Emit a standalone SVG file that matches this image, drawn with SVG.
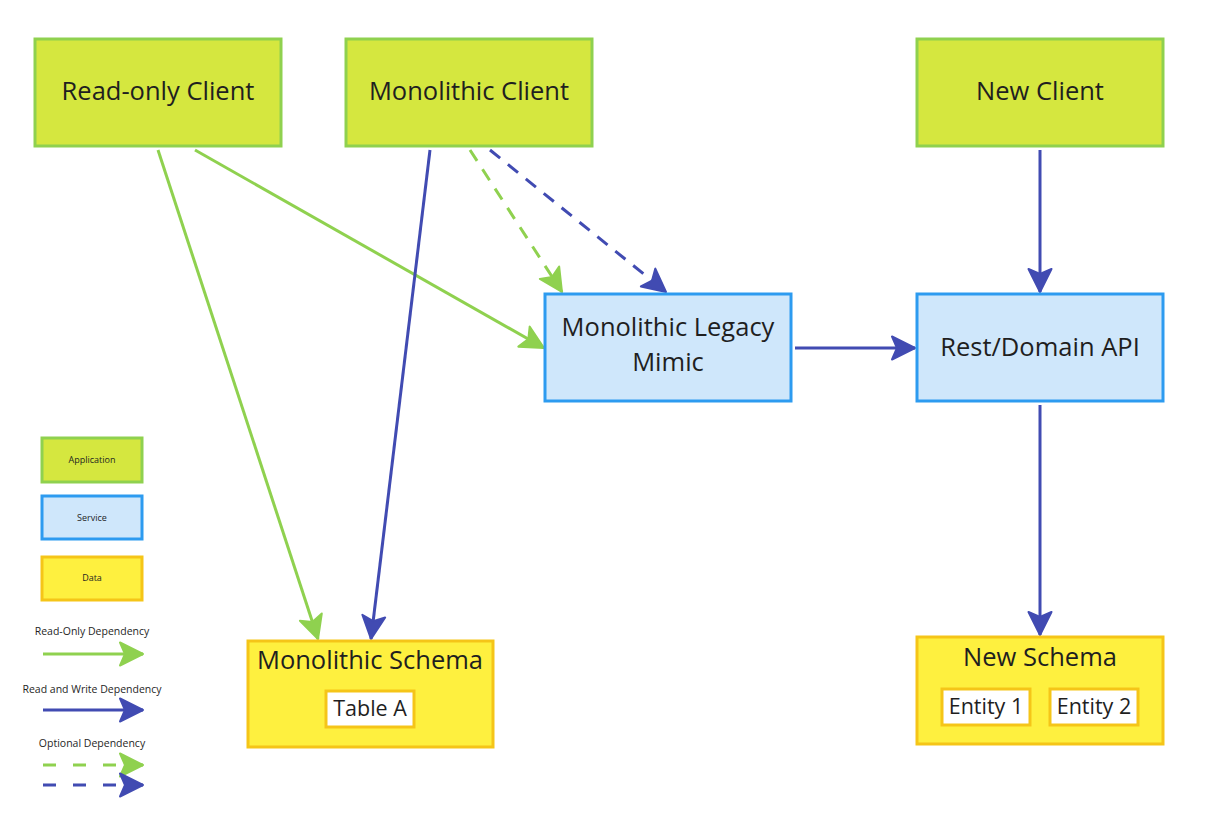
<svg xmlns="http://www.w3.org/2000/svg" width="1224" height="816" viewBox="0 0 1224 816">
<style>
text{font-family:"Open Sans","Noto Sans","Liberation Sans",sans-serif;fill:#1f1f1f;text-anchor:middle}
.app{fill:#d5e73f;stroke:#8fd14f;stroke-width:3}
.svc{fill:#cfe7fb;stroke:#2d9bf0;stroke-width:3}
.dat{fill:#fef03f;stroke:#f5c518;stroke-width:3}
.ent{fill:#ffffff;stroke:#f5c518;stroke-width:3}
.big{font-size:25.5px}
.mid{font-size:21.5px}
.tiny{font-size:9px}
.lg{font-size:10.5px}
.g{stroke:#8fd14f;stroke-width:3;fill:none}
.b{stroke:#414bb2;stroke-width:3;fill:none}
.gd{stroke:#8fd14f;stroke-width:3;fill:none;stroke-dasharray:13 10}
.bd{stroke:#414bb2;stroke-width:3;fill:none;stroke-dasharray:13 10}
.g,.gd{marker-end:url(#ag)}
.b,.bd{marker-end:url(#ab)}
</style>
<defs>
<marker id="ag" markerUnits="userSpaceOnUse" viewBox="-26 -14 28 28" refX="0" refY="0" markerWidth="28" markerHeight="28" orient="auto" overflow="visible">
<path d="M0 0 L-23 -11.5 L-18 0 L-23 11.5 Z" fill="#8fd14f" stroke="#8fd14f" stroke-width="2" stroke-linejoin="round"/>
</marker>
<marker id="ab" markerUnits="userSpaceOnUse" viewBox="-26 -14 28 28" refX="0" refY="0" markerWidth="28" markerHeight="28" orient="auto" overflow="visible">
<path d="M0 0 L-23 -11.5 L-18 0 L-23 11.5 Z" fill="#414bb2" stroke="#414bb2" stroke-width="2" stroke-linejoin="round"/>
</marker>
</defs>
<rect width="1224" height="816" fill="#ffffff"/>
<g id="connectors">
<path class="g" d="M158 150 L318 639"/>
<path class="g" d="M195 150 L544 348"/>
<path class="b" d="M430 150 L371 639"/>
<path class="gd" d="M470 150 L562 292"/>
<path class="bd" d="M490 150 L666 292"/>
<path class="b" d="M795 348 L915 348"/>
<path class="b" d="M1040 150 L1040 292"/>
<path class="b" d="M1040 405 L1040 635"/>
</g>
<g id="read-only-client">
<rect class="app" x="35" y="39" width="246" height="107"/>
<text class="big" x="158" y="100">Read-only Client</text>
</g>
<g id="monolithic-client">
<rect class="app" x="346" y="39" width="246" height="107"/>
<text class="big" x="469" y="100">Monolithic Client</text>
</g>
<g id="new-client">
<rect class="app" x="917" y="39" width="246" height="107"/>
<text class="big" x="1040" y="100">New Client</text>
</g>
<g id="legacy-mimic">
<rect class="svc" x="545" y="294" width="246" height="107"/>
<text class="big" x="668" y="336">Monolithic Legacy</text>
<text class="big" x="668" y="371">Mimic</text>
</g>
<g id="rest-api">
<rect class="svc" x="917" y="294" width="246" height="107"/>
<text class="big" x="1040" y="356">Rest/Domain API</text>
</g>
<g id="monolithic-schema">
<rect class="dat" x="248" y="641" width="245" height="106"/>
<text class="big" x="370" y="669">Monolithic Schema</text>
<rect class="ent" x="326" y="691" width="88" height="36"/>
<text class="mid" x="370" y="716">Table A</text>
</g>
<g id="new-schema">
<rect class="dat" x="917" y="637" width="246" height="107"/>
<text class="big" x="1040" y="666">New Schema</text>
<rect class="ent" x="942" y="689" width="88" height="36"/>
<text class="mid" x="986" y="714">Entity 1</text>
<rect class="ent" x="1050" y="689" width="88" height="36"/>
<text class="mid" x="1094" y="714">Entity 2</text>
</g>
<g id="legend">
<rect class="app" x="42" y="438" width="100" height="44"/>
<text class="tiny" x="92" y="463">Application</text>
<rect class="svc" x="42" y="496" width="100" height="43"/>
<text class="tiny" x="92" y="521">Service</text>
<rect class="dat" x="42" y="557" width="100" height="43"/>
<text class="tiny" x="92" y="581">Data</text>
<text class="lg" x="92" y="635">Read-Only Dependency</text>
<path class="g" d="M43 654 L143 654"/>
<text class="lg" x="92" y="693">Read and Write Dependency</text>
<path class="b" d="M43 710 L143 710"/>
<text class="lg" x="92" y="747">Optional Dependency</text>
<path class="gd" d="M43 765 L143 765" style="stroke-dasharray:13 17"/>
<path class="bd" d="M43 785 L143 785" style="stroke-dasharray:13 17"/>
</g>
</svg>
